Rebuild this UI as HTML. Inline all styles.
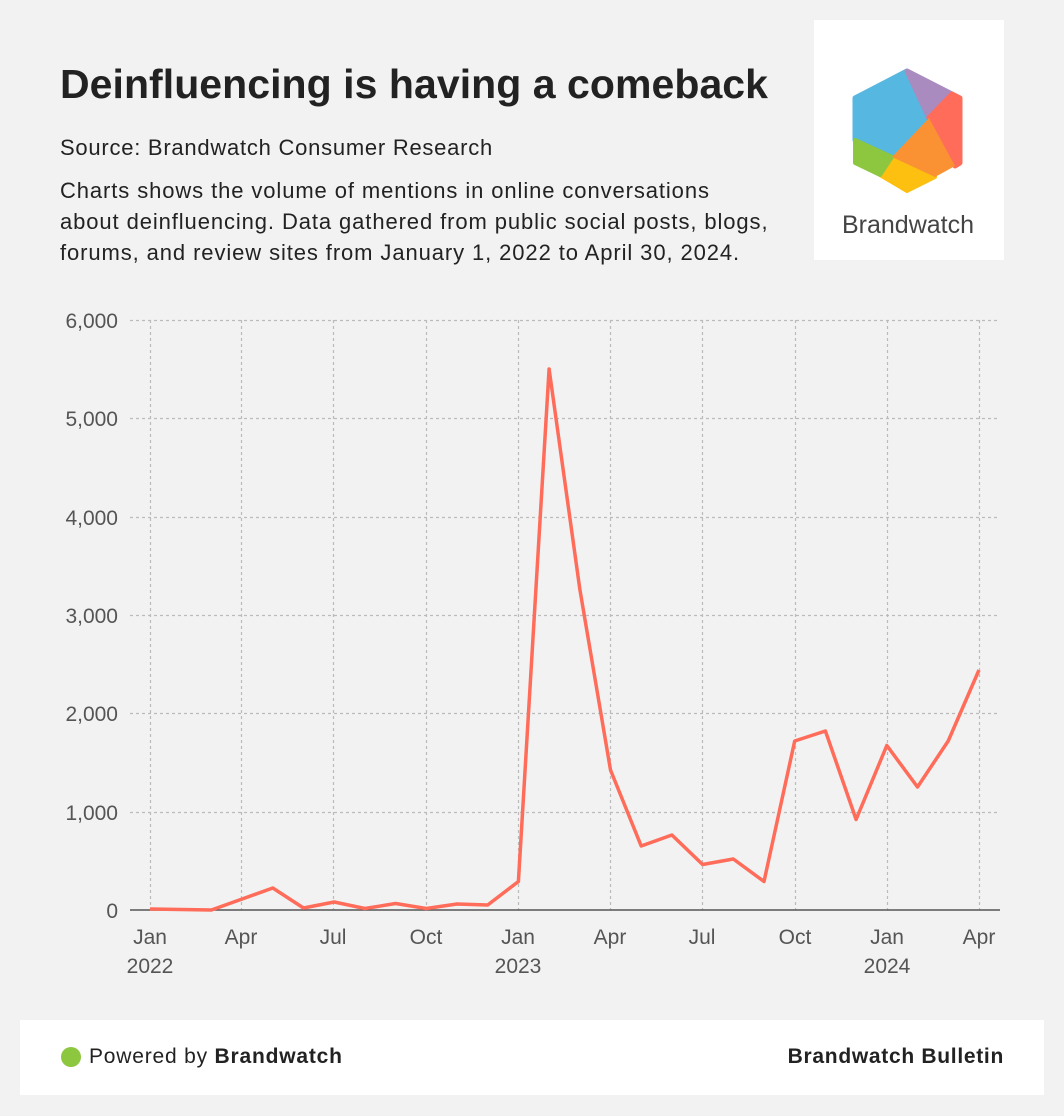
<!DOCTYPE html>
<html><head><meta charset="utf-8"><style>
body{margin:0;width:1064px;height:1116px;background:#f2f2f2;font-family:"Liberation Sans",sans-serif;color:#222;position:relative;overflow:hidden}
.t{position:absolute;white-space:nowrap}
</style></head><body>
<div class="t" style="left:60px;top:61px;font-size:41px;font-weight:bold;color:#222;letter-spacing:0.05px">Deinfluencing is having a comeback</div>
<div class="t" style="left:60px;top:135px;font-size:22px;letter-spacing:0.75px">Source: Brandwatch Consumer Research</div>
<div class="t" style="left:60px;top:175px;font-size:22px;line-height:31px;letter-spacing:0.9px">Charts shows the volume of mentions in online conversations<br>about deinfluencing. Data gathered from public social posts, blogs,<br>forums, and review sites from January 1, 2022 to April 30, 2024.</div>
<div style="position:absolute;left:814px;top:20px;width:190px;height:240px;background:#fff"></div>
<svg style="position:absolute;left:0;top:0" width="1064" height="1116">
<g stroke-linejoin="round">
<polygon points="907,71 929,118 892,157 855,140 855,98" fill="#56b7e0" stroke="#56b7e0" stroke-width="5"/>
<polygon points="907,71 952,94 929,118" fill="#a98bc0" stroke="#a98bc0" stroke-width="5"/>
<polygon points="952,94 960,98 960,163 955,166 929,118" fill="#ff6c5a" stroke="#ff6c5a" stroke-width="5"/>
<polygon points="892,157 935,177 907,191 880,175" fill="#fdc010" stroke="#fdc010" stroke-width="4"/>
<polygon points="855,140 892,157 880,175 855,163" fill="#8dc63f" stroke="#8dc63f" stroke-width="4"/>
<polygon points="929,118 955,166 935,177 892,157" fill="#fa9233"/>
</g>
<text x="908" y="233" font-size="25" text-anchor="middle" fill="#444" font-family="Liberation Sans">Brandwatch</text>
<g stroke="#bbb" stroke-dasharray="3,3" stroke-width="1.2">
<line x1="130" x2="1000" y1="320.5" y2="320.5"/><line x1="130" x2="1000" y1="418.5" y2="418.5"/><line x1="130" x2="1000" y1="517.5" y2="517.5"/><line x1="130" x2="1000" y1="615.5" y2="615.5"/><line x1="130" x2="1000" y1="713.5" y2="713.5"/><line x1="130" x2="1000" y1="812.5" y2="812.5"/>
<line x1="150.5" x2="150.5" y1="320" y2="910"/><line x1="241.5" x2="241.5" y1="320" y2="910"/><line x1="333.5" x2="333.5" y1="320" y2="910"/><line x1="426.5" x2="426.5" y1="320" y2="910"/><line x1="518.5" x2="518.5" y1="320" y2="910"/><line x1="610.5" x2="610.5" y1="320" y2="910"/><line x1="702.5" x2="702.5" y1="320" y2="910"/><line x1="795.5" x2="795.5" y1="320" y2="910"/><line x1="887.5" x2="887.5" y1="320" y2="910"/><line x1="979.5" x2="979.5" y1="320" y2="910"/>
</g>
<line x1="130" x2="1000" y1="910" y2="910" stroke="#555" stroke-width="1.5"/>
<g font-size="21" fill="#555" text-anchor="end" font-family="Liberation Sans">
<text x="118" y="328">6,000</text><text x="118" y="426">5,000</text><text x="118" y="525">4,000</text><text x="118" y="623">3,000</text><text x="118" y="721">2,000</text><text x="118" y="820">1,000</text><text x="118" y="918">0</text>
</g>
<g font-size="21" fill="#555" text-anchor="middle" font-family="Liberation Sans">
<text x="150" y="944">Jan</text><text x="150" y="973">2022</text><text x="241" y="944">Apr</text><text x="333" y="944">Jul</text><text x="426" y="944">Oct</text><text x="518" y="944">Jan</text><text x="518" y="973">2023</text><text x="610" y="944">Apr</text><text x="702" y="944">Jul</text><text x="795" y="944">Oct</text><text x="887" y="944">Jan</text><text x="887" y="973">2024</text><text x="979" y="944">Apr</text>
</g>
<polyline fill="none" stroke="#ff6c5a" stroke-width="3.5" stroke-linejoin="round" points="150,909 180.7,909.5 211.4,910 242.1,899 272.8,888 303.5,908 334.2,902 364.9,908.5 395.6,903.5 426.3,908.5 457,904 487.7,905 518.4,881.5 549.1,369 579.8,589 610.5,770 641.2,846 671.9,835 702.6,864.5 733.3,859 764,881.5 794.7,741 825.4,731 856.1,819.5 886.8,745.5 917.5,787 948.2,741 979,670"/>
</svg>
<div style="position:absolute;left:20px;top:1020px;width:1024px;height:75px;background:#fff"></div>
<div style="position:absolute;left:61px;top:1047px;width:20px;height:20px;border-radius:50%;background:#8dc63f"></div>
<div class="t" style="left:89px;top:1045px;font-size:21px;letter-spacing:0.8px">Powered by <b>Brandwatch</b></div>
<div class="t" style="right:60px;top:1045px;font-size:21px;font-weight:bold;letter-spacing:0.7px">Brandwatch Bulletin</div>
</body></html>
